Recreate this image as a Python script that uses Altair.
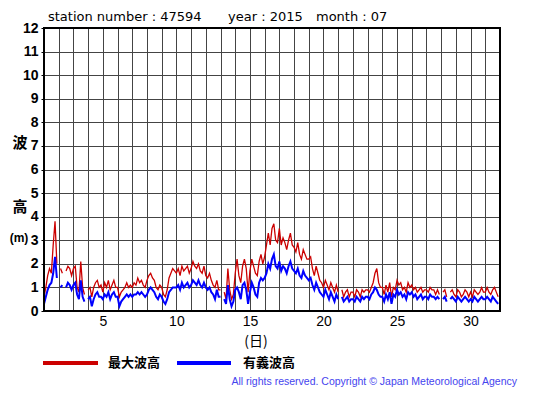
import altair as alt
import pandas as pd

# 3-hourly readings, 8 per day, July 2015 (None = missing)
max_wave = [
    0.6,1.0,1.5,1.8,1.6,2.8,3.8,2.0,
    None,1.8,1.6,None,1.7,1.9,1.8,1.5,
    1.8,1.9,1.0,0.8,2.1,1.0,0.7,None,
    0.9,1.0,0.6,1.0,1.2,1.3,1.0,1.1,
    0.8,1.2,1.0,1.3,0.9,1.1,1.3,1.0,
    1.0,0.6,0.8,0.9,1.0,1.2,1.0,1.1,
    1.0,1.2,1.1,1.4,1.2,1.3,1.1,1.0,
    1.3,1.5,1.6,1.4,1.3,1.0,0.9,1.1,
    1.0,0.7,0.6,0.9,1.4,1.6,1.8,1.7,
    1.6,1.8,1.5,1.9,1.7,1.8,1.9,1.6,
    1.8,2.1,1.9,1.8,2.0,1.7,1.6,1.9,
    1.5,1.4,1.6,1.3,1.1,1.0,1.3,0.9,
    0.9,None,0.8,0.5,1.8,0.9,0.5,0.7,
    1.6,2.2,1.5,1.2,1.9,2.2,1.8,0.8,
    1.7,2.2,1.9,1.6,1.5,2.1,2.4,2.0,
    2.3,2.8,3.3,2.8,3.5,3.7,3.0,2.9,
    3.5,2.8,3.1,2.9,2.6,3.0,3.3,2.8,
    2.7,2.5,2.9,2.4,2.2,2.6,2.4,2.2,
    2.2,2.3,1.8,1.5,1.9,1.6,1.3,1.2,
    1.0,1.3,1.1,0.9,1.2,1.0,0.8,1.1,
    0.8,None,0.9,0.6,0.8,0.9,0.6,0.8,
    0.8,0.6,0.9,0.8,0.6,0.9,0.8,0.9,
    0.9,0.8,1.0,1.2,1.6,1.8,1.2,1.0,
    1.0,0.7,1.1,0.8,1.2,0.6,1.0,0.9,
    1.3,1.1,1.2,0.9,1.0,0.8,1.2,1.0,
    1.1,0.9,1.0,0.8,0.9,1.0,0.8,0.9,
    0.9,0.8,1.0,0.9,0.9,0.7,0.9,0.7,
    None,0.8,0.9,0.6,None,0.8,0.9,0.7,
    0.6,0.9,0.8,0.6,0.7,0.9,0.8,0.6,
    0.8,0.6,0.9,0.8,0.7,0.8,1.0,0.8,
    0.8,1.0,0.8,0.7,0.9,1.0,0.8,0.6,
]
sig_wave = [
    0.3,0.6,0.9,1.1,1.2,1.6,2.3,1.4,
    None,1.0,1.1,None,1.0,1.2,1.1,0.9,
    1.1,1.2,0.7,0.5,1.3,0.6,0.4,None,
    0.5,0.6,0.2,0.5,0.7,0.8,0.6,0.6,
    0.5,0.7,0.6,0.8,0.5,0.7,0.8,0.6,
    0.6,0.2,0.4,0.5,0.6,0.7,0.6,0.7,
    0.6,0.7,0.7,0.8,0.7,0.8,0.7,0.6,
    0.7,0.9,1.0,0.9,0.8,0.6,0.5,0.7,
    0.6,0.4,0.3,0.5,0.8,0.9,1.0,1.0,
    1.0,1.1,0.9,1.2,1.0,1.1,1.2,1.0,
    1.1,1.3,1.2,1.1,1.3,1.1,1.0,1.2,
    1.0,0.9,1.0,0.8,0.7,0.5,0.9,0.6,
    0.6,None,0.5,0.3,1.1,0.5,0.2,0.4,
    0.9,1.0,0.8,0.5,1.1,1.2,0.9,0.3,
    0.8,1.2,1.0,0.7,0.6,1.2,1.4,1.3,
    1.4,1.6,2.0,1.8,2.2,2.4,1.9,1.8,
    2.1,1.7,1.9,1.8,1.6,1.9,2.1,1.8,
    1.7,1.6,1.8,1.5,1.4,1.7,1.5,1.4,
    1.3,1.4,1.1,0.9,1.2,1.0,0.8,0.7,
    0.6,0.9,0.7,0.5,0.8,0.6,0.4,0.7,
    0.5,None,0.6,0.4,0.5,0.6,0.4,0.5,
    0.5,0.4,0.6,0.5,0.4,0.6,0.5,0.6,
    0.6,0.5,0.7,0.8,1.0,0.9,0.7,0.6,
    0.6,0.4,0.7,0.5,0.8,0.3,0.7,0.6,
    0.9,0.7,0.8,0.6,0.7,0.5,0.8,0.7,
    0.8,0.6,0.7,0.5,0.6,0.7,0.5,0.6,
    0.6,0.5,0.7,0.6,0.6,0.5,0.6,0.5,
    None,0.5,0.6,0.4,None,0.5,0.6,0.5,
    0.4,0.6,0.5,0.4,0.5,0.6,0.5,0.4,
    0.5,0.4,0.6,0.5,0.4,0.5,0.6,0.5,
    0.5,0.6,0.5,0.4,0.6,0.5,0.4,0.3,
]
x_ticks = list(range(1, 33))
y_ticks = list(range(0, 13))

t = [1 + i / 8 for i in range(len(max_wave))]
df = pd.DataFrame({"t": t, "max": max_wave, "sig": sig_wave})

FONT = "Liberation Sans"
WIDE = "DejaVu Sans"
JP = "Noto Sans CJK JP"

x_scale = alt.Scale(domain=[1, 32], nice=False, zero=False)
y_scale = alt.Scale(domain=[0, 12], nice=False)

def x_axis():
    return alt.Axis(values=x_ticks, grid=True, gridColor="#444444", gridWidth=1,
                    labelExpr="datum.value % 5 == 0 ? datum.label : ''",
                    labelFont=FONT, labelFontSize=14, labelColor="#000000",
                    labelPadding=3, ticks=False, domain=False, title=None,
                    labelFlush=False, labelOverlap=False)

def y_axis():
    return alt.Axis(values=y_ticks, grid=True, gridColor="#444444", gridWidth=1,
                    labelFont=FONT, labelFontSize=14, labelFontWeight="bold",
                    labelColor="#000000", labelPadding=3, tickSize=3,
                    tickColor="#000000", domain=False, title=None,
                    labelOverlap=False, labelFlush=False)

red = alt.Chart(df).mark_line(color="#cc0000", strokeWidth=1.3).encode(
    x=alt.X("t:Q", scale=x_scale, axis=x_axis()),
    y=alt.Y("max:Q", scale=y_scale, axis=y_axis()),
)
blue = alt.Chart(df).mark_line(color="#0000ff", strokeWidth=2).encode(
    x=alt.X("t:Q", scale=x_scale, axis=x_axis()),
    y=alt.Y("sig:Q", scale=y_scale, axis=y_axis()),
)

one = pd.DataFrame({"a": [0]})

def txt(s, x, y, size=13, font=FONT, weight="normal", align="left", color="#000000", baseline="middle"):
    return alt.Chart(one).mark_text(text=s, font=font, fontSize=size, fontWeight=weight,
                                    align=align, baseline=baseline, color=color).encode(
        x=alt.value(x), y=alt.value(y))

def rule(x1, x2, y, color):
    return alt.Chart(one).mark_rule(color=color, strokeWidth=4).encode(
        x=alt.value(x1), x2=alt.value(x2), y=alt.value(y))

frame = alt.Chart(one).mark_rect(fill=None, stroke="#000000", strokeWidth=2).encode(
    x=alt.value(0), x2=alt.value(456), y=alt.value(0), y2=alt.value(283))

layers = [
    red, blue, frame,
    txt("station number : 47594", 4, -7, size=13, font=WIDE, baseline="alphabetic"),
    txt("year : 2015", 184, -7, size=13, font=WIDE, baseline="alphabetic"),
    txt("month : 07", 272, -7, size=13, font=WIDE, baseline="alphabetic"),
    txt("波", -24, 115, size=15, font=JP, weight="bold", align="center"),
    txt("高", -24, 179, size=15, font=JP, weight="bold", align="center"),
    txt("(m)", -25, 210, size=12, font=FONT, weight="bold", align="center"),
    txt("(日)", 212, 314, size=14, font=JP, align="center"),
    rule(-1, 54, 335, "#cc0000"),
    txt("最大波高", 64, 335, size=13, font=JP, weight="bold"),
    rule(133, 187, 335, "#0000ff"),
    txt("有義波高", 199, 335, size=13, font=JP, weight="bold"),
    txt("All rights reserved. Copyright © Japan Meteorological Agency", 473, 357,
        size=10.5, color="#4444ee", align="right", baseline="alphabetic"),
]

chart = alt.layer(*layers).properties(
    width=456, height=283,
    autosize=alt.AutoSizeParams(type="none"),
    padding={"left": 36, "top": 20, "right": 47, "bottom": 76},
).configure_view(stroke=None).configure(background="#ffffff")

chart.save("out.html", embed_options={"renderer": "svg", "actions": False})
